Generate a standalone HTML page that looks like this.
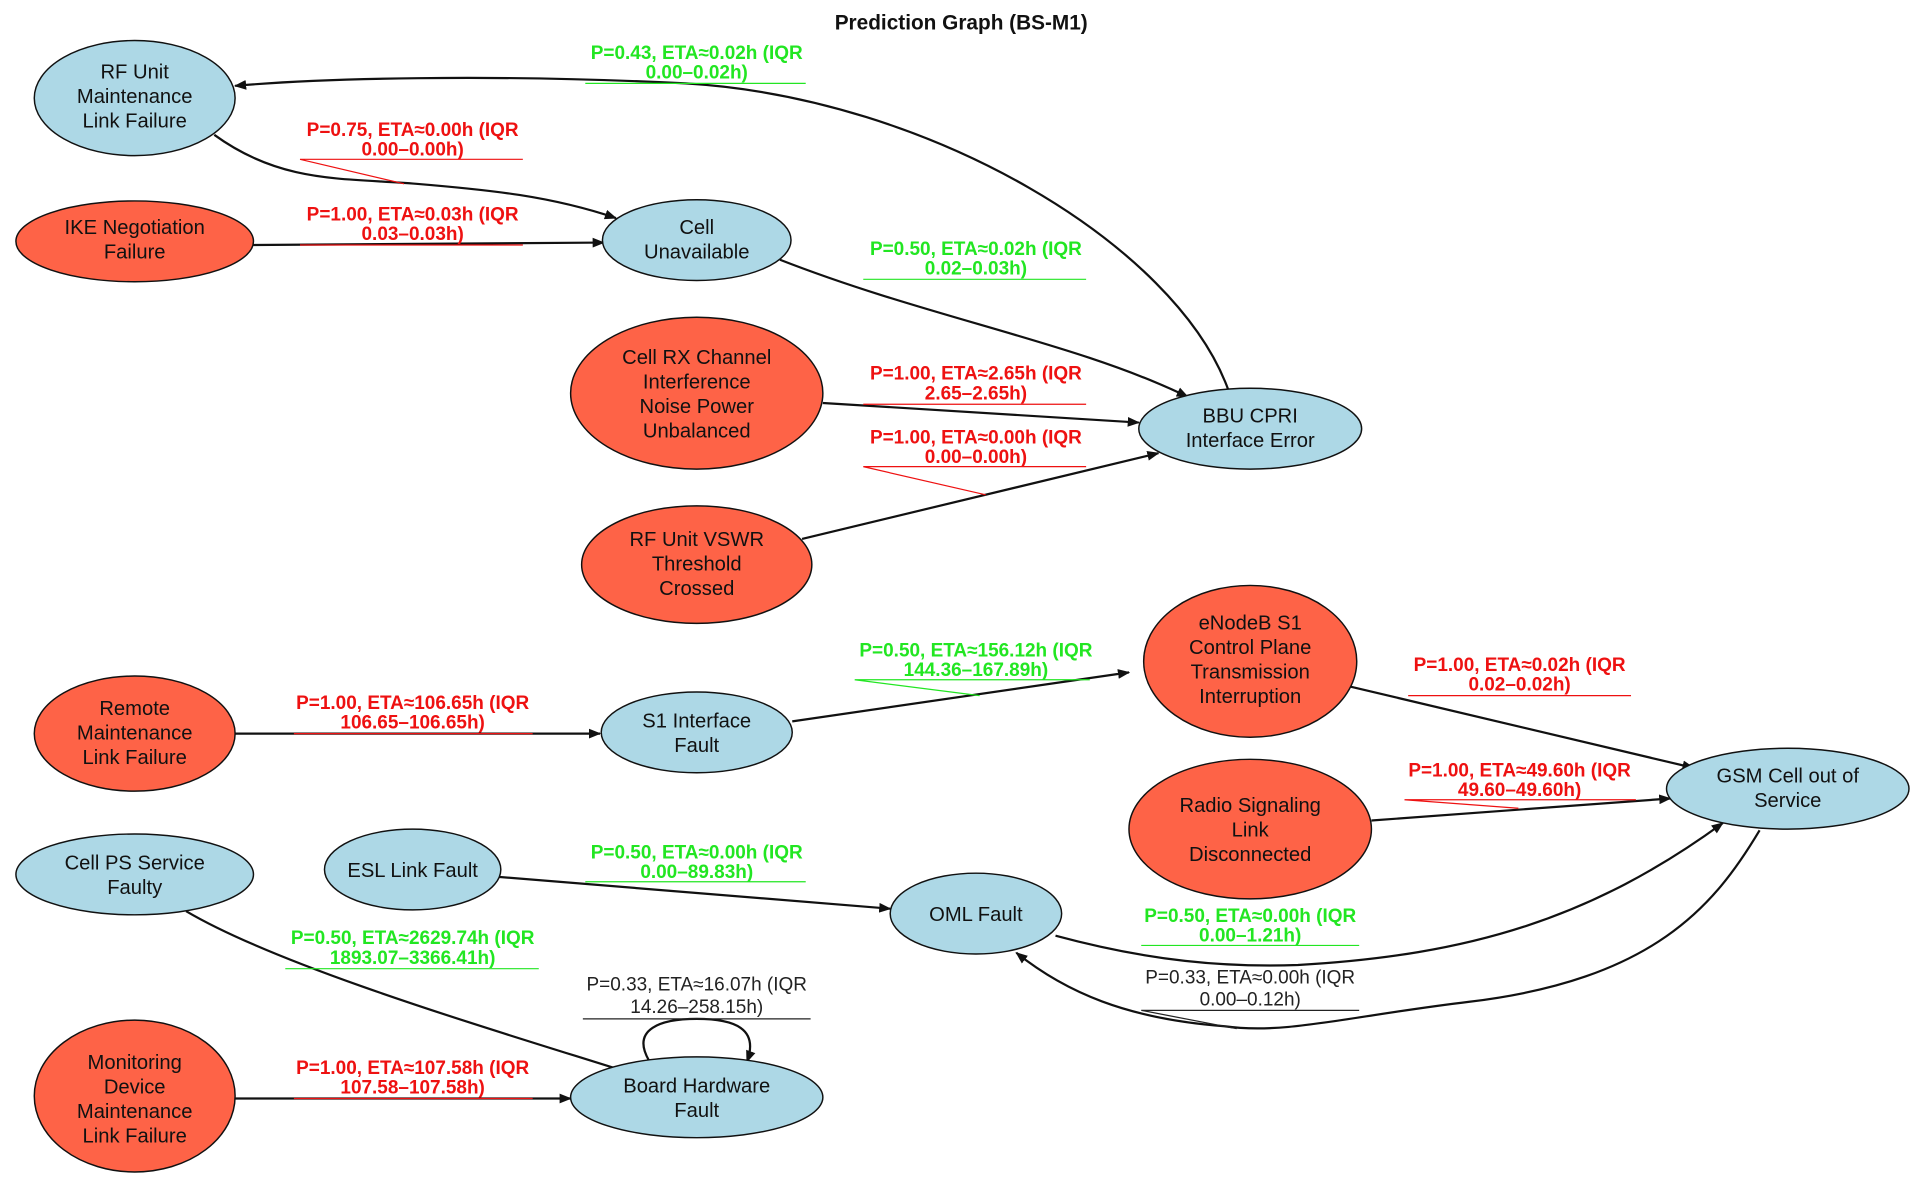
<!DOCTYPE html>
<html><head><meta charset="utf-8"><style>
html,body{margin:0;padding:0;background:#fff;}
svg{display:block;}
.n{font-family:"Liberation Sans",sans-serif;font-size:16.5px;fill:#111;text-anchor:middle;}
.e{font-family:"Liberation Sans",sans-serif;font-size:15.5px;font-weight:bold;text-anchor:middle;}
.k{font-family:"Liberation Sans",sans-serif;font-size:15.5px;text-anchor:middle;fill:#222;}
.b{fill:#add8e6;stroke:#111;stroke-width:1.2;}
.r{fill:#fe6347;stroke:#111;stroke-width:1.2;}
.l{fill:none;stroke:#111;stroke-width:1.8;}
</style></head><body>
<svg width="1920" height="1188" viewBox="0 0 1568 970" xmlns="http://www.w3.org/2000/svg">
<defs><marker id="a" markerWidth="10" markerHeight="8" refX="9" refY="4" orient="auto" markerUnits="userSpaceOnUse"><path d="M0,0 L10,4 L0,8 z" fill="#111"/></marker></defs>
<text x="785" y="24" font-family="Liberation Sans,sans-serif" font-size="17" font-weight="bold" text-anchor="middle" fill="#111">Prediction Graph (BS-M1)</text>

<path class="l" marker-end="url(#a)" d="M1003,318 C960,200 760,80 560,68 C400,60 260,64 192,70"/>
<path class="l" marker-end="url(#a)" d="M175,110 C230,150 280,145 340,150 C400,155 450,160 503,178"/>
<path class="l" marker-end="url(#a)" d="M207,200 L493,198"/>
<path class="l" marker-end="url(#a)" d="M637,212 C760,260 880,280 970,324"/>
<path class="l" marker-end="url(#a)" d="M672,329 L930,345"/>
<path class="l" marker-end="url(#a)" d="M655,440 L946,370"/>
<path class="l" marker-end="url(#a)" d="M192,599 L490,599"/>
<path class="l" marker-end="url(#a)" d="M647,589 L922,549"/>
<path class="l" marker-end="url(#a)" d="M1100,560 L1383,627"/>
<path class="l" marker-end="url(#a)" d="M1120,670 L1364,652"/>
<path class="l" marker-end="url(#a)" d="M407,716 L727,742"/>
<path class="l" marker-end="url(#a)" d="M862,764 C940,785 1000,790 1060,788 C1200,780 1300,750 1407,672"/>
<path class="l" marker-end="url(#a)" d="M1437,678 C1400,740 1350,800 1200,818 C1100,830 1050,845 1000,838 C920,832 870,810 830,778"/>
<path class="l" marker-end="url(#a)" d="M152,744 C230,790 400,840 514,876"/>
<path class="l" marker-end="url(#a)" d="M192,897 L466,897"/>
<path class="l" marker-end="url(#a)" d="M530,866 C515,840 540,832 569,832 C600,832 620,840 610,867"/>

<g class="e" fill="#22e622">
<text x="569" y="48">P=0.43, ETA≈0.02h (IQR</text><text x="569" y="64">0.00–0.02h)</text>
<text x="797" y="208">P=0.50, ETA≈0.02h (IQR</text><text x="797" y="224">0.02–0.03h)</text>
<text x="797" y="536">P=0.50, ETA≈156.12h (IQR</text><text x="797" y="552">144.36–167.89h)</text>
<text x="569" y="701">P=0.50, ETA≈0.00h (IQR</text><text x="569" y="717">0.00–89.83h)</text>
<text x="1021" y="753">P=0.50, ETA≈0.00h (IQR</text><text x="1021" y="769">0.00–1.21h)</text>
<text x="337" y="771">P=0.50, ETA≈2629.74h (IQR</text><text x="337" y="787">1893.07–3366.41h)</text>
</g>
<g stroke="#22e622" stroke-width="1" fill="none">
<path d="M478,68H658"/><path d="M705,228H887"/><path d="M698,555H890 M698,555L800,568"/><path d="M478,720H658"/><path d="M932,772H1110"/><path d="M233,791H440"/>
</g>
<g class="e" fill="#ee1111">
<text x="337" y="111">P=0.75, ETA≈0.00h (IQR</text><text x="337" y="127">0.00–0.00h)</text>
<text x="337" y="180">P=1.00, ETA≈0.03h (IQR</text><text x="337" y="196">0.03–0.03h)</text>
<text x="797" y="310">P=1.00, ETA≈2.65h (IQR</text><text x="797" y="326">2.65–2.65h)</text>
<text x="797" y="362">P=1.00, ETA≈0.00h (IQR</text><text x="797" y="378">0.00–0.00h)</text>
<text x="337" y="579">P=1.00, ETA≈106.65h (IQR</text><text x="337" y="595">106.65–106.65h)</text>
<text x="1241" y="548">P=1.00, ETA≈0.02h (IQR</text><text x="1241" y="564">0.02–0.02h)</text>
<text x="1241" y="634">P=1.00, ETA≈49.60h (IQR</text><text x="1241" y="650">49.60–49.60h)</text>
<text x="337" y="877">P=1.00, ETA≈107.58h (IQR</text><text x="337" y="893">107.58–107.58h)</text>
</g>
<g stroke="#ee1111" stroke-width="1" fill="none">
<path d="M245,130H427 M245,130L330,150"/><path d="M245,200H427"/><path d="M705,330H887"/><path d="M705,381H887 M705,381L805,404"/><path d="M240,599H435"/><path d="M1150,568H1332"/><path d="M1147,653H1336 M1147,653L1240,660"/><path d="M240,897H435"/>
</g>
<g class="k">
<text x="569" y="809">P=0.33, ETA≈16.07h (IQR</text><text x="569" y="827">14.26–258.15h)</text>
<text x="1021" y="803">P=0.33, ETA≈0.00h (IQR</text><text x="1021" y="821">0.00–0.12h)</text>
</g>
<g stroke="#222" stroke-width="1" fill="none"><path d="M476,832H662"/><path d="M932,825H1110 M932,825L1010,840"/></g>

<ellipse class="b" cx="110" cy="80" rx="82" ry="47"/>
<text class="n"><tspan x="110" y="64">RF Unit</tspan><tspan x="110" y="84">Maintenance</tspan><tspan x="110" y="104">Link Failure</tspan></text>
<ellipse class="r" cx="110" cy="197" rx="97" ry="33"/>
<text class="n"><tspan x="110" y="191">IKE Negotiation</tspan><tspan x="110" y="211">Failure</tspan></text>
<ellipse class="b" cx="569" cy="196" rx="77" ry="33"/>
<text class="n"><tspan x="569" y="191">Cell</tspan><tspan x="569" y="211">Unavailable</tspan></text>
<ellipse class="r" cx="569" cy="321" rx="103" ry="62"/>
<text class="n"><tspan x="569" y="297">Cell RX Channel</tspan><tspan x="569" y="317">Interference</tspan><tspan x="569" y="337">Noise Power</tspan><tspan x="569" y="357">Unbalanced</tspan></text>
<ellipse class="b" cx="1021" cy="350" rx="91" ry="33"/>
<text class="n"><tspan x="1021" y="345">BBU CPRI</tspan><tspan x="1021" y="365">Interface Error</tspan></text>
<ellipse class="r" cx="569" cy="461" rx="94" ry="48"/>
<text class="n"><tspan x="569" y="446">RF Unit VSWR</tspan><tspan x="569" y="466">Threshold</tspan><tspan x="569" y="486">Crossed</tspan></text>
<ellipse class="r" cx="110" cy="599" rx="82" ry="47"/>
<text class="n"><tspan x="110" y="584">Remote</tspan><tspan x="110" y="604">Maintenance</tspan><tspan x="110" y="624">Link Failure</tspan></text>
<ellipse class="b" cx="569" cy="598" rx="78" ry="33"/>
<text class="n"><tspan x="569" y="594">S1 Interface</tspan><tspan x="569" y="614">Fault</tspan></text>
<ellipse class="r" cx="1021" cy="540" rx="87" ry="62"/>
<text class="n"><tspan x="1021" y="514">eNodeB S1</tspan><tspan x="1021" y="534">Control Plane</tspan><tspan x="1021" y="554">Transmission</tspan><tspan x="1021" y="574">Interruption</tspan></text>
<ellipse class="b" cx="1460" cy="644" rx="99" ry="33"/>
<text class="n"><tspan x="1460" y="639">GSM Cell out of</tspan><tspan x="1460" y="659">Service</tspan></text>
<ellipse class="r" cx="1021" cy="677" rx="99" ry="57"/>
<text class="n"><tspan x="1021" y="663">Radio Signaling</tspan><tspan x="1021" y="683">Link</tspan><tspan x="1021" y="703">Disconnected</tspan></text>
<ellipse class="b" cx="110" cy="714" rx="97" ry="33"/>
<text class="n"><tspan x="110" y="710">Cell PS Service</tspan><tspan x="110" y="730">Faulty</tspan></text>
<ellipse class="b" cx="337" cy="710" rx="72" ry="33"/>
<text class="n"><tspan x="337" y="716">ESL Link Fault</tspan></text>
<ellipse class="b" cx="797" cy="746" rx="70" ry="33"/>
<text class="n"><tspan x="797" y="752">OML Fault</tspan></text>
<ellipse class="r" cx="110" cy="895" rx="82" ry="62"/>
<text class="n"><tspan x="110" y="873">Monitoring</tspan><tspan x="110" y="893">Device</tspan><tspan x="110" y="913">Maintenance</tspan><tspan x="110" y="933">Link Failure</tspan></text>
<ellipse class="b" cx="569" cy="896" rx="103" ry="33"/>
<text class="n"><tspan x="569" y="892">Board Hardware</tspan><tspan x="569" y="912">Fault</tspan></text>
</svg>
</body></html>
